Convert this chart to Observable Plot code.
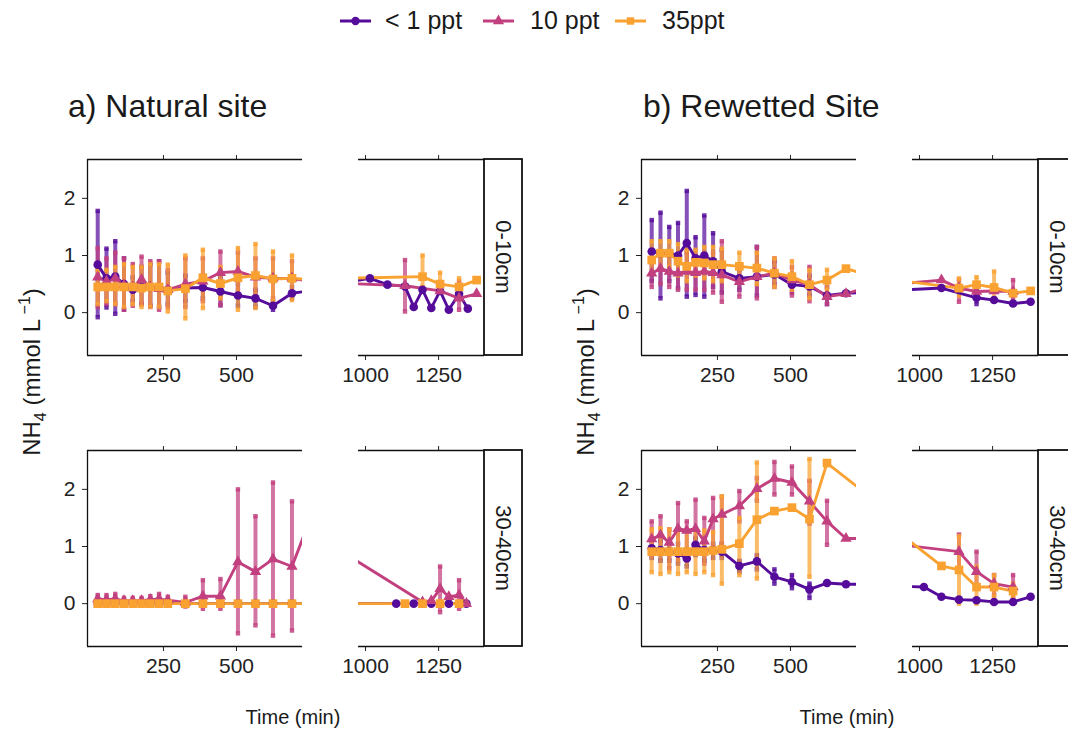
<!DOCTYPE html>
<html><head><meta charset="utf-8">
<script src="https://cdn.jsdelivr.net/npm/d3@7"></script>
<script src="https://cdn.jsdelivr.net/npm/@observablehq/plot@0.6"></script>
<style>
body{margin:0;background:#fff;}
#fig{position:relative;width:1068px;height:731px;overflow:hidden;background:#fff;font-family:"Liberation Sans",Arial,sans-serif;}
#fig svg{max-width:none;}
</style></head><body><div id="fig"></div>
<script>
// ---------- data: [time (min), mean, lower, upper] ----------
const seriesNames = ["< 1 ppt", "10 ppt", "35ppt"];
const seriesColors = ["#560c9b", "#c2407f", "#f9a231"];
const seriesSymbols = ["circle", "triangle", "square"];
const siteTitles = ["a) Natural site", "b) Rewetted Site"];
const depthLabels = ["0-10cm", "30-40cm"];
const xTicksEarly = [250, 500];
const xTicksLate = [1000, 1250];
const yTicks = [0, 1, 2];
const xDomainEarly = [-10, 726];
const xDomainLate = [976, 1407];
const yDomain = [-0.75, 2.68];

const nat_top_lt1 = [[25,0.84,-0.08,1.78],[55,0.60,0.09,1.12],[85,0.63,-0.02,1.25],[115,0.50,0.05,0.95],[145,0.40,0.20,0.62],[175,0.45,0.15,0.80],[205,0.45,0.12,0.85],[235,0.45,0.10,0.90],[265,0.40,0.15,0.70],[325,0.43,0.20,0.65],[385,0.44,0.25,0.65],[445,0.37,0.13,0.62],[505,0.30,0.12,0.50],[565,0.25,0.10,0.40],[625,0.12,0.05,0.20],[690,0.34,0.25,0.45],[750,0.38],[1015,0.60],[1075,0.49],[1135,0.46],[1165,0.10],[1195,0.40],[1225,0.08],[1255,0.38],[1285,0.05],[1320,0.33],[1350,0.07]];
const nat_top_10 = [[25,0.62,0.10,1.13],[55,0.55,0.15,0.95],[85,0.60,0.15,1.05],[115,0.48,0.05,0.95],[145,0.45,0.12,0.85],[175,0.58,0.15,0.98],[205,0.45,0.10,0.90],[235,0.42,0.05,0.90],[265,0.40,0.10,0.75],[325,0.50,0.10,0.95],[385,0.55,0.20,0.95],[445,0.70,0.13,1.07],[505,0.72,0.40,1.05],[565,0.62,0.30,0.95],[625,0.60,0.25,0.95],[690,0.60,0.30,0.90],[750,0.55],[1135,0.47,0.02,0.92],[1255,0.38],[1320,0.25,0.05,0.55],[1380,0.33]];
const nat_top_35 = [[25,0.45,0.15,0.75],[55,0.45,0.20,0.75],[85,0.45,0.15,0.80],[115,0.45,0.10,0.85],[145,0.45,0.15,0.80],[175,0.43,0.10,0.80],[205,0.45,0.10,0.85],[235,0.45,0.10,0.85],[265,0.38,0.02,0.84],[325,0.42,-0.10,1.00],[385,0.61,0.08,1.10],[445,0.51,0.25,0.80],[505,0.61,0.05,1.13],[565,0.65,0.08,1.20],[625,0.59,0.20,1.07],[690,0.60,0.22,1.00],[750,0.58],[1195,0.63,0.45,1.00],[1255,0.50,0.35,0.70],[1320,0.45,0.30,0.60],[1380,0.57]];

const nat_bot_lt1 = [[25,0],[55,0],[85,0],[115,0],[145,0],[175,0],[205,0],[235,0],[265,0],[325,0],[385,0],[445,0],[505,0],[565,0],[625,0],[690,0],[750,0],[1105,0],[1165,0],[1225,0],[1285,0],[1345,0]];
const nat_bot_10 = [[25,0.08,0.0,0.15],[55,0.07,0.0,0.15],[85,0.08,0.0,0.17],[115,0.05,0.0,0.10],[145,0.05,0.0,0.10],[175,0.05,0.0,0.10],[205,0.07,0.0,0.13],[235,0.08,0.0,0.17],[265,0.06,0.0,0.12],[325,0.02,-0.05,0.12],[385,0.13,-0.09,0.41],[445,0.13,-0.09,0.43],[505,0.73,-0.52,2.00],[565,0.56,-0.38,1.53],[625,0.78,-0.56,2.12],[690,0.65,-0.47,1.79],[750,1.45],[1195,0.03],[1225,0.05],[1255,0.26,-0.15,0.65],[1285,0.12],[1320,0.15,-0.09,0.41],[1345,0.0]];
const nat_bot_35 = [[25,0],[55,0],[85,0],[115,0],[145,0],[175,0],[205,0],[235,0],[265,0],[325,0],[385,0],[445,0],[505,0],[565,0],[625,0],[690,0],[750,0],[1135,0],[1195,0],[1255,0],[1320,0]];

const rew_top_lt1 = [[25,1.07,0.55,1.62],[55,1.04,0.25,1.75],[85,1.04,0.55,1.50],[115,1.00,0.43,1.57],[145,1.22,0.28,2.13],[175,0.95,0.31,1.32],[205,1.00,0.28,1.70],[235,0.90,0.45,1.39],[265,0.72,0.35,1.10],[325,0.60,0.40,0.80],[385,0.63,0.30,1.15],[445,0.67,0.50,0.90],[505,0.49,0.35,0.65],[565,0.46,0.30,0.65],[625,0.30,0.15,0.45],[690,0.34],[750,0.35],[1075,0.43],[1195,0.26,0.15,0.35],[1255,0.22],[1320,0.16],[1380,0.19]];
const rew_top_10 = [[25,0.69,0.45,0.95],[55,0.77,0.50,1.05],[85,0.72,0.45,1.00],[115,0.69,0.40,1.00],[145,0.72,0.40,1.05],[175,0.70,0.40,1.00],[205,0.72,0.40,1.05],[235,0.70,0.35,1.05],[265,0.66,0.19,1.25],[325,0.54,0.28,0.75],[385,0.63,0.25,1.15],[445,0.69,0.45,0.95],[505,0.57,0.30,0.80],[565,0.49,0.20,0.80],[625,0.28,0.15,0.45],[690,0.33],[750,0.42],[1075,0.57],[1135,0.43,0.19,0.57],[1195,0.37],[1255,0.38],[1320,0.37,0.25,0.57]];
const rew_top_35 = [[25,0.92,0.70,1.25],[55,1.04,0.75,1.25],[85,1.04,0.80,1.25],[115,0.90,0.65,1.20],[145,0.81,0.55,1.10],[175,0.88,0.65,1.10],[205,0.87,0.60,1.15],[235,0.84,0.55,1.15],[265,0.84,0.55,1.12],[325,0.81,0.60,1.05],[385,0.78,0.50,1.05],[445,0.69,0.45,0.95],[505,0.63,0.40,0.90],[565,0.49,0.25,0.75],[625,0.57,0.40,0.75],[690,0.77],[750,0.68],[1135,0.43,0.30,0.60],[1195,0.49,0.35,0.62],[1255,0.44,0.25,0.72],[1320,0.34],[1380,0.38]];

const rew_bot_lt1 = [[25,0.97,0.80,1.10],[55,0.94,0.75,1.10],[85,0.91,0.75,1.05],[115,0.88,0.70,1.05],[145,0.79,0.65,0.95],[175,1.03,0.85,1.15],[205,0.94,0.75,1.10],[235,0.94,0.80,1.05],[265,0.91,0.80,1.05],[325,0.66,0.55,0.75],[385,0.74,0.60,0.85],[445,0.47,0.35,0.60],[505,0.38,0.27,0.50],[565,0.25,0.10,0.35],[625,0.36],[690,0.34],[750,0.34],[1015,0.29],[1075,0.12],[1135,0.07],[1195,0.06],[1255,0.03],[1320,0.03],[1380,0.12]];
const rew_bot_10 = [[25,1.13,0.85,1.44],[55,1.20,0.92,1.53],[85,1.07,0.62,1.30],[115,1.31,0.76,1.76],[145,1.28,0.80,1.44],[175,1.31,0.88,1.82],[205,1.09,0.70,1.50],[235,1.48,1.00,1.85],[265,1.56,1.05,1.87],[325,1.71,1.44,1.97],[385,2.01,1.80,2.20],[445,2.19,1.91,2.48],[505,2.12,1.91,2.40],[565,1.79,1.40,2.15],[625,1.44,1.03,1.80],[690,1.14],[750,1.14],[1135,0.91,0.60,1.21],[1195,0.56,0.30,0.91],[1255,0.35,0.15,0.50],[1320,0.29,0.10,0.50]];
const rew_bot_35 = [[25,0.91,0.55,1.30],[55,0.91,0.52,1.32],[85,0.91,0.55,1.30],[115,0.91,0.52,1.30],[145,0.91,0.55,1.28],[175,0.91,0.52,1.30],[205,0.91,0.55,1.28],[235,0.93,0.50,1.25],[265,0.95,0.35,1.88],[325,1.05,0.50,1.50],[385,1.47,0.44,2.47],[445,1.62],[505,1.68],[565,1.48,0.47,2.53],[625,2.46],[750,1.96],[1075,0.66],[1135,0.59,0.0,1.18],[1195,0.29,0.0,0.65],[1255,0.29,0.12,0.50],[1320,0.22,0.12,0.35]];

// sites x depths x series
const panelData = [
  [[nat_top_lt1, nat_top_10, nat_top_35], [nat_bot_lt1, nat_bot_10, nat_bot_35]],
  [[rew_top_lt1, rew_top_10, rew_top_35], [rew_bot_lt1, rew_bot_10, rew_bot_35]]
];

// ---------- layout ----------
const FONT = '"Liberation Sans", Arial, sans-serif';
const fig = document.getElementById("fig");
const siteOffset = [0, 554];
const rowTop = [159, 450];
const panelH = 196;
const early = {left: 87, w: 215};
const late = {left: 358, w: 126};
const strip = {left: 484, w: 38};
const fmt = d => String(d);

const toRows = arr => arr.map(([t, m, lo, hi]) => ({t, m, lo, hi}));

function subplot(seriesArrays, xDomain, ticks, frameLeft, frameTop, frameW, withY) {
  const mL = withY ? 50 : 2, mR = 2, mT = 10, mB = 42;
  const barMarks = [], lineMarks = [], dotMarks = [];
  seriesArrays.forEach((arr, i) => {
    const rows = toRows(arr);
    const bars = rows.filter(d => d.lo != null);
    const col = seriesColors[i];
    barMarks.push(Plot.ruleX(bars, {x: "t", y1: "lo", y2: "hi", stroke: col, strokeWidth: 4, strokeOpacity: 0.72, clip: true}));
    barMarks.push(Plot.dot(bars.flatMap(d => [{t: d.t, y: d.lo}, {t: d.t, y: d.hi}]),
      {x: "t", y: "y", symbol: "square", r: 2.5, fill: col, fillOpacity: 0.85, clip: true}));
    lineMarks.push(Plot.line(rows, {x: "t", y: "m", stroke: col, strokeWidth: 2.9, clip: true}));
    const r = seriesSymbols[i] === "circle" ? 4.3 : seriesSymbols[i] === "triangle" ? 4.2 : 4.9;
    dotMarks.push(Plot.dot(rows, {x: "t", y: "m", symbol: seriesSymbols[i], r, fill: col, clip: true}));
  });
  const frameLines = [
    Plot.ruleY([yDomain[0], yDomain[1]], {stroke: "#111", strokeWidth: 1.3}),
  ];
  if (withY) frameLines.push(Plot.ruleX([xDomain[0]], {stroke: "#111", strokeWidth: 1.3}));
  const axes = [
    Plot.axisX({anchor: "bottom", ticks, tickSize: 5, tickPadding: 7, fontSize: 21, tickFormat: fmt, label: null, color: "#222"}),
    Plot.axisX({anchor: "top", ticks, tickSize: 5, tickFormat: () => "", label: null, color: "#222"})
  ];
  if (withY) axes.push(Plot.axisY({ticks: yTicks, tickSize: 5, tickPadding: 7, fontSize: 21, tickFormat: fmt, label: null, color: "#222"}));
  const svg = Plot.plot({
    width: frameW + mL + mR, height: panelH + mT + mB,
    marginLeft: mL, marginRight: mR, marginTop: mT, marginBottom: mB,
    x: {domain: xDomain},
    y: {domain: yDomain, axis: withY ? undefined : null},
    style: {background: "transparent", overflow: "visible", fontFamily: FONT, fontSize: "21px", color: "#1a1a1a"},
    marks: [...axes, ...barMarks, ...lineMarks, ...dotMarks, ...frameLines]
  });
  svg.style.position = "absolute";
  svg.style.left = (frameLeft - mL) + "px";
  svg.style.top = (frameTop - mT) + "px";
  fig.appendChild(svg);
}

panelData.forEach((site, s) => {
  site.forEach((depth, r) => {
    subplot(depth, xDomainEarly, xTicksEarly, early.left + siteOffset[s], rowTop[r], early.w, true);
    subplot(depth, xDomainLate, xTicksLate, late.left + siteOffset[s], rowTop[r], late.w, false);
  });
});

// ---------- overlay: titles, strips, axis titles, legend ----------
const ov = d3.create("svg").attr("width", 1068).attr("height", 731)
  .style("position", "absolute").style("left", "0px").style("top", "0px")
  .style("pointer-events", "none").style("font-family", FONT);

siteTitles.forEach((t, s) => {
  ov.append("text").attr("x", 68 + siteOffset[s] + (s ? 21 : 0)).attr("y", 117)
    .attr("font-size", 32).attr("fill", "#1a1a1a").text(t);
  // y title
  const yt = ov.append("text").attr("transform", `translate(${40 + siteOffset[s]},372) rotate(-90)`)
    .attr("text-anchor", "middle").attr("font-size", 24).attr("fill", "#1a1a1a");
  yt.append("tspan").text("NH");
  yt.append("tspan").attr("dy", 6).attr("font-size", 16).text("4");
  yt.append("tspan").attr("dy", -6).text(" (mmol L");
  yt.append("tspan").attr("dy", -10).attr("font-size", 16).text(" \u22121");
  yt.append("tspan").attr("dy", 10).text(")");
  // x title
  ov.append("text").attr("x", 290 + siteOffset[s] + 3).attr("y", 724).attr("text-anchor", "middle")
    .attr("font-size", 20).attr("fill", "#1a1a1a").text("Time (min)");
  // strips
  depthLabels.forEach((lab, r) => {
    const x = strip.left + siteOffset[s], y = rowTop[r];
    ov.append("rect").attr("x", x).attr("y", y).attr("width", strip.w).attr("height", panelH)
      .attr("fill", "#fff").attr("stroke", "#111").attr("stroke-width", 1.8);
    ov.append("text").attr("transform", `translate(${x + strip.w / 2},${y + panelH / 2}) rotate(90)`)
      .attr("text-anchor", "middle").attr("dominant-baseline", "central")
      .attr("font-size", 22).attr("fill", "#1a1a1a").text(lab);
  });
});

// legend
const legendX = [340, 483, 615];
const legendTextX = [385, 530, 662];
seriesNames.forEach((name, i) => {
  const g = ov.append("g").attr("transform", `translate(${legendX[i]},21)`);
  g.append("line").attr("x1", 0).attr("x2", 31).attr("stroke", seriesColors[i]).attr("stroke-width", 3);
  const sym = {circle: d3.symbolCircle, triangle: d3.symbolTriangle, square: d3.symbolSquare}[seriesSymbols[i]];
  g.append("path").attr("transform", "translate(15.5,0)").attr("d", d3.symbol(sym, 55)()).attr("fill", seriesColors[i]);
  ov.append("text").attr("x", legendTextX[i]).attr("y", 29).attr("font-size", 25).attr("fill", "#1a1a1a").text(name);
});

fig.appendChild(ov.node());
</script></body></html>
